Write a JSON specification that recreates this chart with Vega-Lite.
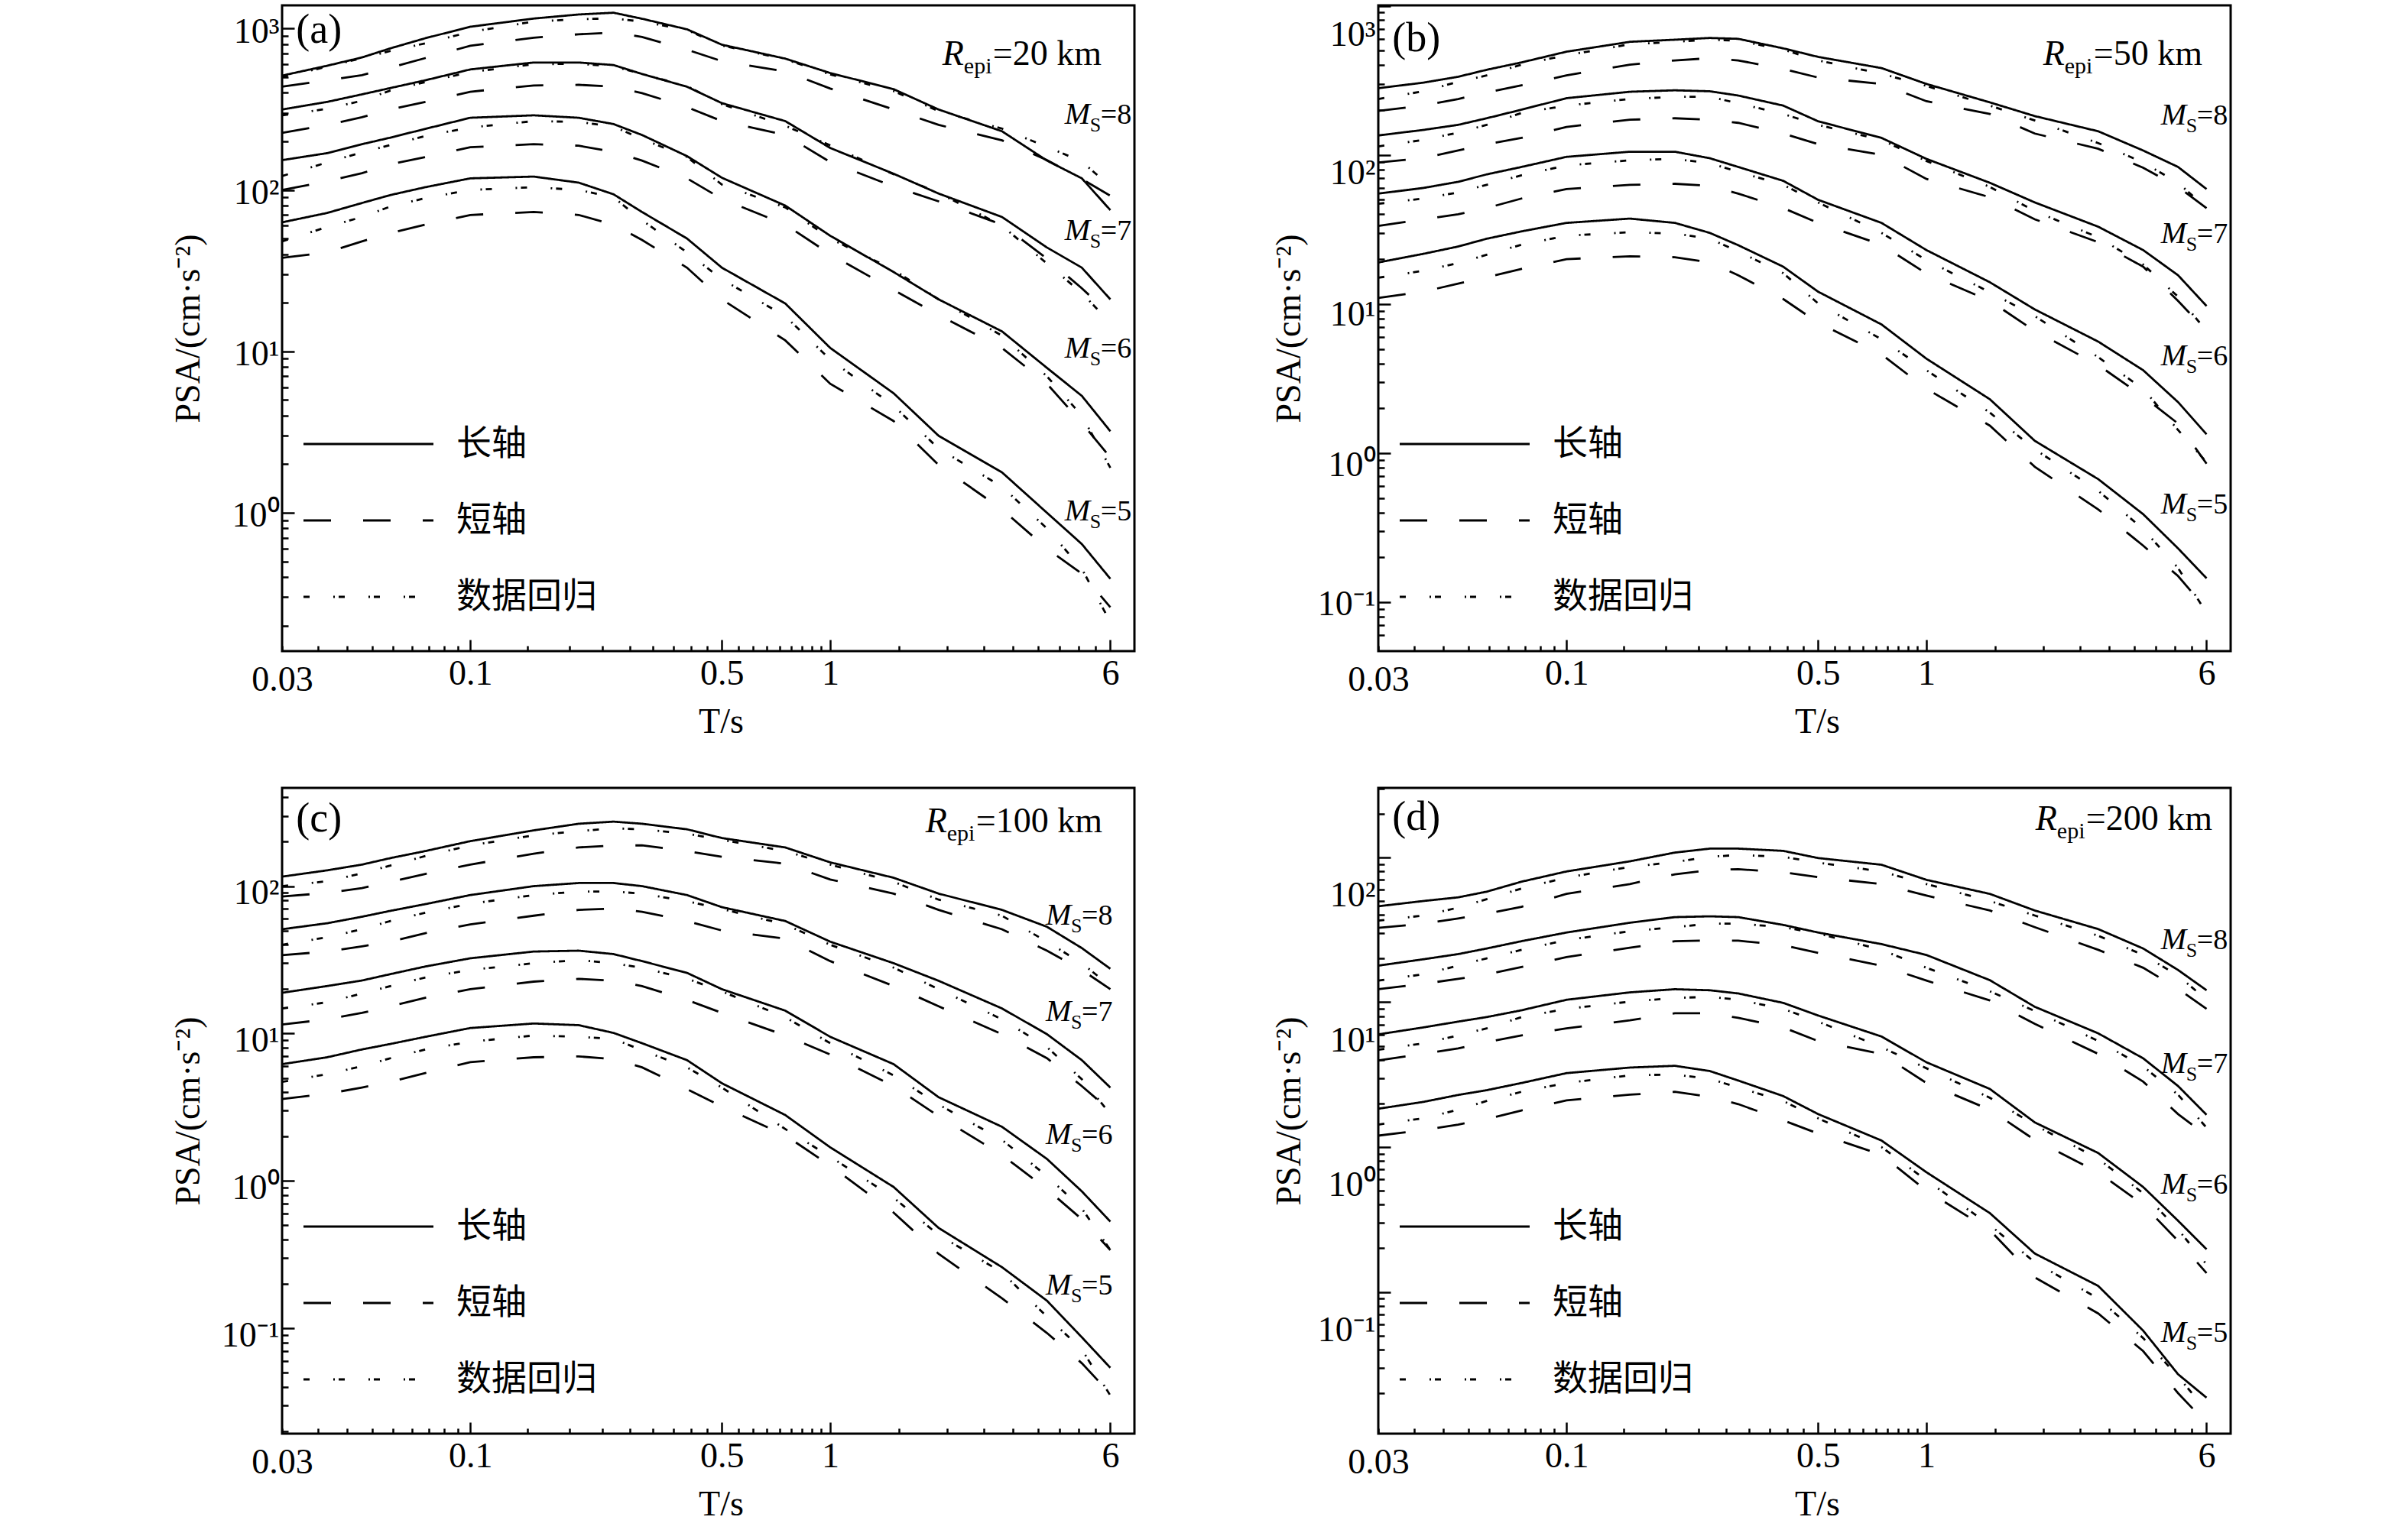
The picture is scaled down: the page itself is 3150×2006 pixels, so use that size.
{
  "$schema": "https://vega.github.io/schema/vega-lite/v6.json",
  "background": "white",
  "padding": {"left": 221, "top": 5, "right": 10, "bottom": 10},
  "columns": 2,
  "spacing": {"row": 58, "column": 175},
  "datasets": {
    "curves": [
      {"panel":"a","Ms":8,"T":0.03,"长轴":511,"短轴":436,"数据回归":500},
      {"panel":"a","Ms":8,"T":0.04,"长轴":588,"短轴":478,"数据回归":580},
      {"panel":"a","Ms":8,"T":0.05,"长轴":662,"短轴":514,"数据回归":656},
      {"panel":"a","Ms":8,"T":0.06,"长轴":754,"短轴":573,"数据回归":726},
      {"panel":"a","Ms":8,"T":0.075,"长轴":871,"短轴":656,"数据回归":810},
      {"panel":"a","Ms":8,"T":0.1,"长轴":1026,"短轴":782,"数据回归":953},
      {"panel":"a","Ms":8,"T":0.15,"长轴":1153,"短轴":877,"数据回归":1104},
      {"panel":"a","Ms":8,"T":0.2,"长轴":1222,"短轴":921,"数据回归":1143},
      {"panel":"a","Ms":8,"T":0.25,"长轴":1253,"短轴":945,"数据回归":1156},
      {"panel":"a","Ms":8,"T":0.3,"长轴":1150,"短轴":887,"数据回归":1104},
      {"panel":"a","Ms":8,"T":0.4,"长轴":989,"短轴":740,"数据回归":980},
      {"panel":"a","Ms":8,"T":0.5,"长轴":794,"短轴":628,"数据回归":785},
      {"panel":"a","Ms":8,"T":0.75,"长轴":651,"短轴":543,"数据回归":645},
      {"panel":"a","Ms":8,"T":1,"长轴":530,"短轴":425,"数据回归":520},
      {"panel":"a","Ms":8,"T":1.5,"长轴":421,"短轴":315,"数据回归":410},
      {"panel":"a","Ms":8,"T":2,"长轴":315,"短轴":253,"数据回归":308},
      {"panel":"a","Ms":8,"T":3,"长轴":231,"短轴":203,"数据回归":240},
      {"panel":"a","Ms":8,"T":4,"长轴":152,"短轴":153,"数据回归":185},
      {"panel":"a","Ms":8,"T":5,"长轴":118,"短轴":117,"数据回归":150},
      {"panel":"a","Ms":8,"T":6,"长轴":75,"短轴":92,"数据回归":105},
      {"panel":"a","Ms":7,"T":0.03,"长轴":315,"短轴":226,"数据回归":290},
      {"panel":"a","Ms":7,"T":0.04,"长轴":351,"短轴":253,"数据回归":318},
      {"panel":"a","Ms":7,"T":0.05,"长轴":391,"短轴":282,"数据回归":357},
      {"panel":"a","Ms":7,"T":0.06,"长轴":428,"短轴":315,"数据回归":413},
      {"panel":"a","Ms":7,"T":0.075,"长轴":478,"短轴":351,"数据回归":466},
      {"panel":"a","Ms":7,"T":0.1,"长轴":558,"短轴":406,"数据回归":537},
      {"panel":"a","Ms":7,"T":0.15,"长轴":616,"短轴":444,"数据回归":601},
      {"panel":"a","Ms":7,"T":0.2,"长轴":616,"短轴":448,"数据回归":605},
      {"panel":"a","Ms":7,"T":0.25,"长轴":594,"短轴":436,"数据回归":583},
      {"panel":"a","Ms":7,"T":0.3,"长轴":523,"短轴":398,"数据回归":523},
      {"panel":"a","Ms":7,"T":0.4,"长轴":436,"短轴":326,"数据回归":440},
      {"panel":"a","Ms":7,"T":0.5,"长轴":345,"短轴":267,"数据回归":340},
      {"panel":"a","Ms":7,"T":0.75,"长轴":267,"短轴":219,"数据回归":250},
      {"panel":"a","Ms":7,"T":1,"长轴":182,"短轴":149,"数据回归":189},
      {"panel":"a","Ms":7,"T":1.5,"长轴":126,"短轴":105,"数据回归":125},
      {"panel":"a","Ms":7,"T":2,"长轴":95,"短轴":85,"数据回归":96},
      {"panel":"a","Ms":7,"T":3,"长轴":68,"短轴":61,"数据回归":60},
      {"panel":"a","Ms":7,"T":4,"长轴":44,"短轴":37.5,"数据回归":35},
      {"panel":"a","Ms":7,"T":5,"长轴":33,"短轴":24.6,"数据回归":23},
      {"panel":"a","Ms":7,"T":6,"长轴":21,"短轴":16.8,"数据回归":15},
      {"panel":"a","Ms":6,"T":0.03,"长轴":153,"短轴":100,"数据回归":122},
      {"panel":"a","Ms":6,"T":0.04,"长轴":169,"短轴":113,"数据回归":148},
      {"panel":"a","Ms":6,"T":0.05,"长轴":192,"短轴":127,"数据回归":171},
      {"panel":"a","Ms":6,"T":0.06,"长轴":211,"短轴":144,"数据回归":190},
      {"panel":"a","Ms":6,"T":0.075,"长轴":239,"短轴":160,"数据回归":216},
      {"panel":"a","Ms":6,"T":0.1,"长轴":280,"短轴":184,"数据回归":244},
      {"panel":"a","Ms":6,"T":0.15,"长轴":290,"短轴":192,"数据回归":267},
      {"panel":"a","Ms":6,"T":0.2,"长轴":280,"短轴":188,"数据回归":264},
      {"panel":"a","Ms":6,"T":0.25,"长轴":256,"短轴":172,"数据回归":247},
      {"panel":"a","Ms":6,"T":0.3,"长轴":219,"短轴":152,"数据回归":207},
      {"panel":"a","Ms":6,"T":0.4,"长轴":162,"短轴":118,"数据回归":160},
      {"panel":"a","Ms":6,"T":0.5,"长轴":119,"短轴":88,"数据回归":108},
      {"panel":"a","Ms":6,"T":0.75,"长轴":80,"短轴":61,"数据回归":78},
      {"panel":"a","Ms":6,"T":1,"长轴":52,"短轴":40,"数据回归":50},
      {"panel":"a","Ms":6,"T":1.5,"长轴":31,"短轴":24,"数据回归":32},
      {"panel":"a","Ms":6,"T":2,"长轴":21,"短轴":16.8,"数据回归":21},
      {"panel":"a","Ms":6,"T":3,"长轴":13.3,"短轴":10.5,"数据回归":12.5},
      {"panel":"a","Ms":6,"T":4,"长轴":7.9,"短轴":6.3,"数据回归":7},
      {"panel":"a","Ms":6,"T":5,"长轴":5.3,"短轴":3.6,"数据回归":4},
      {"panel":"a","Ms":6,"T":6,"长轴":3.2,"短轴":2.2,"数据回归":1.9},
      {"panel":"a","Ms":5,"T":0.03,"长轴":63,"短轴":38,"数据回归":48},
      {"panel":"a","Ms":5,"T":0.04,"长轴":72,"短轴":41,"数据回归":59},
      {"panel":"a","Ms":5,"T":0.05,"长轴":83,"短轴":48,"数据回归":68},
      {"panel":"a","Ms":5,"T":0.06,"长轴":93,"短轴":54,"数据回归":79},
      {"panel":"a","Ms":5,"T":0.075,"长轴":104,"短轴":61,"数据回归":89},
      {"panel":"a","Ms":5,"T":0.1,"长轴":118,"短轴":70,"数据回归":100},
      {"panel":"a","Ms":5,"T":0.15,"长轴":121,"短轴":73,"数据回归":104},
      {"panel":"a","Ms":5,"T":0.2,"长轴":111,"短轴":70,"数据回归":100},
      {"panel":"a","Ms":5,"T":0.25,"长轴":94,"短轴":61,"数据回归":90},
      {"panel":"a","Ms":5,"T":0.3,"长轴":73,"短轴":49,"数据回归":65},
      {"panel":"a","Ms":5,"T":0.4,"长轴":50,"短轴":33,"数据回归":41},
      {"panel":"a","Ms":5,"T":0.5,"长轴":33,"短轴":21,"数据回归":28},
      {"panel":"a","Ms":5,"T":0.75,"长轴":19.8,"短轴":11.7,"数据回归":16.5},
      {"panel":"a","Ms":5,"T":1,"长轴":10.5,"短轴":6.3,"数据回归":8.9},
      {"panel":"a","Ms":5,"T":1.5,"长轴":5.5,"短轴":3.7,"数据回归":4.6},
      {"panel":"a","Ms":5,"T":2,"长轴":3.0,"短轴":1.98,"数据回归":2.5},
      {"panel":"a","Ms":5,"T":3,"长轴":1.78,"短轴":1.05,"数据回归":1.45},
      {"panel":"a","Ms":5,"T":4,"长轴":1.0,"短轴":0.6,"数据回归":0.8},
      {"panel":"a","Ms":5,"T":5,"长轴":0.64,"短轴":0.42,"数据回归":0.45},
      {"panel":"a","Ms":5,"T":6,"长轴":0.39,"短轴":0.26,"数据回归":0.21},

      {"panel":"b","Ms":8,"T":0.03,"长轴":280,"短轴":197,"数据回归":237},
      {"panel":"b","Ms":8,"T":0.04,"长轴":305,"短轴":214,"数据回归":267},
      {"panel":"b","Ms":8,"T":0.05,"长轴":334,"短轴":237,"数据回归":309},
      {"panel":"b","Ms":8,"T":0.06,"长轴":372,"短轴":262,"数据回归":341},
      {"panel":"b","Ms":8,"T":0.075,"长轴":417,"短轴":293,"数据回归":403},
      {"panel":"b","Ms":8,"T":0.1,"长轴":492,"短轴":341,"数据回归":466},
      {"panel":"b","Ms":8,"T":0.15,"长轴":573,"短轴":403,"数据回归":551},
      {"panel":"b","Ms":8,"T":0.2,"长轴":592,"短轴":430,"数据回归":573},
      {"panel":"b","Ms":8,"T":0.25,"长轴":608,"短轴":445,"数据回归":592},
      {"panel":"b","Ms":8,"T":0.3,"长轴":600,"短轴":430,"数据回归":583},
      {"panel":"b","Ms":8,"T":0.4,"长轴":518,"短轴":377,"数据回归":508},
      {"panel":"b","Ms":8,"T":0.5,"长轴":454,"短轴":330,"数据回归":430},
      {"panel":"b","Ms":8,"T":0.75,"长轴":382,"短轴":299,"数据回归":350},
      {"panel":"b","Ms":8,"T":1,"长轴":299,"短轴":229,"数据回归":290},
      {"panel":"b","Ms":8,"T":1.5,"长轴":225,"短轴":188,"数据回归":214},
      {"panel":"b","Ms":8,"T":2,"长轴":182,"短轴":139,"数据回归":170},
      {"panel":"b","Ms":8,"T":3,"长轴":144,"短轴":110,"数据回归":120},
      {"panel":"b","Ms":8,"T":4,"长轴":107,"短轴":82,"数据回归":89},
      {"panel":"b","Ms":8,"T":5,"长轴":83,"短轴":61,"数据回归":65},
      {"panel":"b","Ms":8,"T":6,"长轴":59,"短轴":44,"数据回归":44},
      {"panel":"b","Ms":7,"T":0.03,"长轴":135,"短轴":89,"数据回归":114},
      {"panel":"b","Ms":7,"T":0.04,"长轴":147,"短轴":95,"数据回归":126},
      {"panel":"b","Ms":7,"T":0.05,"长轴":159,"短轴":107,"数据回归":141},
      {"panel":"b","Ms":7,"T":0.06,"长轴":176,"短轴":118,"数据回归":159},
      {"panel":"b","Ms":7,"T":0.075,"长轴":201,"短轴":130,"数据回归":191},
      {"panel":"b","Ms":7,"T":0.1,"长轴":240,"短轴":154,"数据回归":214},
      {"panel":"b","Ms":7,"T":0.15,"长轴":265,"短轴":172,"数据回归":237},
      {"panel":"b","Ms":7,"T":0.2,"长轴":271,"短轴":176,"数据回归":245},
      {"panel":"b","Ms":7,"T":0.25,"长轴":267,"短轴":172,"数据回归":245},
      {"panel":"b","Ms":7,"T":0.3,"长轴":250,"短轴":164,"数据回归":222},
      {"panel":"b","Ms":7,"T":0.4,"长轴":214,"短轴":139,"数据回归":188},
      {"panel":"b","Ms":7,"T":0.5,"长轴":168,"短轴":118,"数据回归":159},
      {"panel":"b","Ms":7,"T":0.75,"长轴":130,"短轴":100,"数据回归":126},
      {"panel":"b","Ms":7,"T":1,"长轴":94,"短轴":69,"数据回归":91},
      {"panel":"b","Ms":7,"T":1.5,"长轴":65,"短轴":52,"数据回归":61},
      {"panel":"b","Ms":7,"T":2,"长轴":48,"短轴":37,"数据回归":42},
      {"panel":"b","Ms":7,"T":3,"长轴":33,"短轴":26,"数据回归":28},
      {"panel":"b","Ms":7,"T":4,"长轴":23,"短轴":17.8,"数据回归":18.4},
      {"panel":"b","Ms":7,"T":5,"长轴":15.6,"短轴":10.5,"数据回归":11.2},
      {"panel":"b","Ms":7,"T":6,"长轴":9.7,"短轴":6.6,"数据回归":6.6},
      {"panel":"b","Ms":6,"T":0.03,"长轴":55,"短轴":33.4,"数据回归":47},
      {"panel":"b","Ms":6,"T":0.04,"长轴":60,"短轴":37,"数据回归":51},
      {"panel":"b","Ms":6,"T":0.05,"长轴":66,"短轴":40,"数据回归":56},
      {"panel":"b","Ms":6,"T":0.06,"长轴":74,"短轴":44,"数据回归":63},
      {"panel":"b","Ms":6,"T":0.075,"长轴":83,"短轴":51,"数据回归":73},
      {"panel":"b","Ms":6,"T":0.1,"长轴":97,"短轴":59,"数据回归":85},
      {"panel":"b","Ms":6,"T":0.15,"长轴":105,"短轴":63,"数据回归":92},
      {"panel":"b","Ms":6,"T":0.2,"长轴":105,"短轴":64,"数据回归":94},
      {"panel":"b","Ms":6,"T":0.25,"长轴":95,"短轴":62,"数据回归":88},
      {"panel":"b","Ms":6,"T":0.3,"长轴":83,"短轴":55,"数据回归":77},
      {"panel":"b","Ms":6,"T":0.4,"长轴":67,"短轴":44,"数据回归":63},
      {"panel":"b","Ms":6,"T":0.5,"长轴":50,"短轴":35,"数据回归":48},
      {"panel":"b","Ms":6,"T":0.75,"长轴":35,"短轴":25,"数据回归":30},
      {"panel":"b","Ms":6,"T":1,"长轴":23,"短轴":16,"数据回归":19.7},
      {"panel":"b","Ms":6,"T":1.5,"长轴":14,"短轴":10.5,"数据回归":12},
      {"panel":"b","Ms":6,"T":2,"长轴":9.2,"短轴":6.6,"数据回归":8.3},
      {"panel":"b","Ms":6,"T":3,"长轴":5.6,"短轴":3.9,"数据回归":4.4},
      {"panel":"b","Ms":6,"T":4,"长轴":3.6,"短轴":2.4,"数据回归":2.7},
      {"panel":"b","Ms":6,"T":5,"长轴":2.2,"短轴":1.58,"数据回归":1.43},
      {"panel":"b","Ms":6,"T":6,"长轴":1.34,"短轴":0.85,"数据回归":0.87},
      {"panel":"b","Ms":5,"T":0.03,"长轴":19,"短轴":11,"数据回归":15},
      {"panel":"b","Ms":5,"T":0.04,"长轴":21.7,"短轴":12.1,"数据回归":16.7},
      {"panel":"b","Ms":5,"T":0.05,"长轴":24.3,"短轴":13.7,"数据回归":18.8},
      {"panel":"b","Ms":5,"T":0.06,"长轴":27.4,"短轴":15.1,"数据回归":21.4},
      {"panel":"b","Ms":5,"T":0.075,"长轴":30.7,"短轴":17.2,"数据回归":25},
      {"panel":"b","Ms":5,"T":0.1,"长轴":35,"短轴":20,"数据回归":28.7},
      {"panel":"b","Ms":5,"T":0.15,"长轴":37.4,"短轴":20.9,"数据回归":30.3},
      {"panel":"b","Ms":5,"T":0.2,"长轴":35,"短轴":20.6,"数据回归":29.7},
      {"panel":"b","Ms":5,"T":0.25,"长轴":30,"短轴":19,"数据回归":27.4},
      {"panel":"b","Ms":5,"T":0.3,"长轴":24.8,"短轴":15.6,"数据回归":22.5},
      {"panel":"b","Ms":5,"T":0.4,"长轴":17.8,"短轴":10.8,"数据回归":16.1},
      {"panel":"b","Ms":5,"T":0.5,"长轴":12.1,"短轴":7.5,"数据回归":10.1},
      {"panel":"b","Ms":5,"T":0.75,"长轴":7.3,"短轴":4.6,"数据回归":5.8},
      {"panel":"b","Ms":5,"T":1,"长轴":4.3,"短轴":2.7,"数据回归":3.6},
      {"panel":"b","Ms":5,"T":1.5,"长轴":2.3,"短轴":1.53,"数据回归":1.87},
      {"panel":"b","Ms":5,"T":2,"长轴":1.21,"短轴":0.81,"数据回归":1.06},
      {"panel":"b","Ms":5,"T":3,"长轴":0.67,"短轴":0.42,"数据回归":0.56},
      {"panel":"b","Ms":5,"T":4,"长轴":0.39,"短轴":0.24,"数据回归":0.31},
      {"panel":"b","Ms":5,"T":5,"长轴":0.23,"短轴":0.15,"数据回归":0.17},
      {"panel":"b","Ms":5,"T":6,"长轴":0.145,"短轴":0.09,"数据回归":0.085},

      {"panel":"c","Ms":8,"T":0.03,"长轴":116,"短轴":85,"数据回归":100},
      {"panel":"c","Ms":8,"T":0.04,"长轴":128,"短轴":90,"数据回归":108},
      {"panel":"c","Ms":8,"T":0.05,"长轴":140,"短轴":97,"数据回归":122},
      {"panel":"c","Ms":8,"T":0.06,"长轴":155,"短轴":107,"数据回归":138},
      {"panel":"c","Ms":8,"T":0.075,"长轴":173,"短轴":121,"数据回归":160},
      {"panel":"c","Ms":8,"T":0.1,"长轴":202,"短轴":140,"数据回归":189},
      {"panel":"c","Ms":8,"T":0.15,"长轴":239,"短轴":166,"数据回归":221},
      {"panel":"c","Ms":8,"T":0.2,"长轴":265,"短轴":183,"数据回归":236},
      {"panel":"c","Ms":8,"T":0.25,"长轴":274,"短轴":189,"数据回归":247},
      {"panel":"c","Ms":8,"T":0.3,"长轴":265,"短轴":189,"数据回归":243},
      {"panel":"c","Ms":8,"T":0.4,"长轴":243,"短轴":173,"数据回归":227},
      {"panel":"c","Ms":8,"T":0.5,"长轴":212,"短轴":158,"数据回归":206},
      {"panel":"c","Ms":8,"T":0.75,"长轴":183,"短轴":142,"数据回归":173},
      {"panel":"c","Ms":8,"T":1,"长轴":145,"短轴":111,"数据回归":140},
      {"panel":"c","Ms":8,"T":1.5,"长轴":114,"短轴":89,"数据回归":107},
      {"panel":"c","Ms":8,"T":2,"长轴":89,"短轴":69,"数据回归":81},
      {"panel":"c","Ms":8,"T":3,"长轴":69,"短轴":51,"数据回归":63},
      {"panel":"c","Ms":8,"T":4,"长轴":53,"短轴":36.5,"数据回归":42},
      {"panel":"c","Ms":8,"T":5,"长轴":38,"短轴":27,"数据回归":30},
      {"panel":"c","Ms":8,"T":6,"长轴":27.5,"短轴":20,"数据回归":21},
      {"panel":"c","Ms":7,"T":0.03,"长轴":51,"短轴":34,"数据回归":40},
      {"panel":"c","Ms":7,"T":0.04,"长轴":56,"短轴":36,"数据回归":45},
      {"panel":"c","Ms":7,"T":0.05,"长轴":62,"短轴":39,"数据回归":51},
      {"panel":"c","Ms":7,"T":0.06,"长轴":68,"短轴":42,"数据回归":58},
      {"panel":"c","Ms":7,"T":0.075,"长轴":75.5,"短轴":48,"数据回归":66},
      {"panel":"c","Ms":7,"T":0.1,"长轴":87,"短轴":55,"数据回归":76},
      {"panel":"c","Ms":7,"T":0.15,"长轴":100,"短轴":63,"数据回归":87},
      {"panel":"c","Ms":7,"T":0.2,"长轴":105,"短轴":69,"数据回归":92},
      {"panel":"c","Ms":7,"T":0.25,"长轴":105,"短轴":70.5,"数据回归":92},
      {"panel":"c","Ms":7,"T":0.3,"长轴":100,"短轴":67,"数据回归":89},
      {"panel":"c","Ms":7,"T":0.4,"长轴":87,"短轴":58,"数据回归":79},
      {"panel":"c","Ms":7,"T":0.5,"长轴":72,"短轴":50,"数据回归":70},
      {"panel":"c","Ms":7,"T":0.75,"长轴":58,"短轴":44,"数据回归":55},
      {"panel":"c","Ms":7,"T":1,"长轴":42,"短轴":31,"数据回归":40},
      {"panel":"c","Ms":7,"T":1.5,"长轴":30,"短轴":21,"数据回归":28},
      {"panel":"c","Ms":7,"T":2,"长轴":22.8,"短轴":15.3,"数据回归":20},
      {"panel":"c","Ms":7,"T":3,"长轴":14.8,"短轴":9.9,"数据回归":12.5},
      {"panel":"c","Ms":7,"T":4,"长轴":9.9,"短轴":6.8,"数据回归":8.1},
      {"panel":"c","Ms":7,"T":5,"长轴":6.6,"短轴":4.4,"数据回归":4.9},
      {"panel":"c","Ms":7,"T":6,"长轴":4.3,"短轴":3.0,"数据回归":2.85},
      {"panel":"c","Ms":6,"T":0.03,"长轴":18.9,"短轴":11.5,"数据回归":14.8},
      {"panel":"c","Ms":6,"T":0.04,"长轴":21,"短轴":12.5,"数据回归":16.3},
      {"panel":"c","Ms":6,"T":0.05,"长轴":22.9,"短轴":13.8,"数据回归":18.7},
      {"panel":"c","Ms":6,"T":0.06,"长轴":25.3,"短轴":15.3,"数据回归":21},
      {"panel":"c","Ms":6,"T":0.075,"长轴":28.5,"短轴":17.5,"数据回归":24},
      {"panel":"c","Ms":6,"T":0.1,"长轴":32.4,"短轴":20,"数据回归":27},
      {"panel":"c","Ms":6,"T":0.15,"长轴":36,"短轴":22.5,"数据回归":30},
      {"panel":"c","Ms":6,"T":0.2,"长轴":36.5,"短轴":23.5,"数据回归":31.5},
      {"panel":"c","Ms":6,"T":0.25,"长轴":34.6,"短轴":22.8,"数据回归":30},
      {"panel":"c","Ms":6,"T":0.3,"长轴":31,"短轴":21,"数据回归":27.9},
      {"panel":"c","Ms":6,"T":0.4,"长轴":25.8,"短轴":16.9,"数据回归":23.6},
      {"panel":"c","Ms":6,"T":0.5,"长轴":20,"短轴":13.8,"数据回归":19.3},
      {"panel":"c","Ms":6,"T":0.75,"长轴":14.3,"短轴":9.7,"数据回归":12.9},
      {"panel":"c","Ms":6,"T":1,"长轴":9.5,"短轴":7.2,"数据回归":8.6},
      {"panel":"c","Ms":6,"T":1.5,"长轴":6.2,"短轴":4.4,"数据回归":5.2},
      {"panel":"c","Ms":6,"T":2,"长轴":3.7,"短轴":2.75,"数据回归":3.3},
      {"panel":"c","Ms":6,"T":3,"长轴":2.33,"短轴":1.5,"数据回归":1.9},
      {"panel":"c","Ms":6,"T":4,"长轴":1.41,"短轴":0.88,"数据回归":1.08},
      {"panel":"c","Ms":6,"T":5,"长轴":0.85,"短轴":0.55,"数据回归":0.65},
      {"panel":"c","Ms":6,"T":6,"长轴":0.53,"短轴":0.34,"数据回归":0.34},
      {"panel":"c","Ms":5,"T":0.03,"长轴":6.2,"短轴":3.6,"数据回归":4.7},
      {"panel":"c","Ms":5,"T":0.04,"长轴":6.9,"短轴":3.9,"数据回归":5.3},
      {"panel":"c","Ms":5,"T":0.05,"长轴":7.8,"短轴":4.3,"数据回归":6.0},
      {"panel":"c","Ms":5,"T":0.06,"长轴":8.5,"短轴":4.7,"数据回归":6.8},
      {"panel":"c","Ms":5,"T":0.075,"长轴":9.5,"短轴":5.4,"数据回归":7.8},
      {"panel":"c","Ms":5,"T":0.1,"长轴":10.9,"短轴":6.4,"数据回归":8.8},
      {"panel":"c","Ms":5,"T":0.15,"长轴":11.7,"短轴":6.9,"数据回归":9.7},
      {"panel":"c","Ms":5,"T":0.2,"长轴":11.4,"短轴":7.0,"数据回归":9.5},
      {"panel":"c","Ms":5,"T":0.25,"长轴":10.1,"短轴":6.7,"数据回归":9.2},
      {"panel":"c","Ms":5,"T":0.3,"长轴":8.6,"短轴":5.9,"数据回归":7.7},
      {"panel":"c","Ms":5,"T":0.4,"长轴":6.6,"短轴":4.2,"数据回归":5.9},
      {"panel":"c","Ms":5,"T":0.5,"长轴":4.6,"短轴":3.2,"数据回归":4.3},
      {"panel":"c","Ms":5,"T":0.75,"长轴":2.8,"短轴":2.04,"数据回归":2.25},
      {"panel":"c","Ms":5,"T":1,"长轴":1.69,"短轴":1.27,"数据回归":1.46},
      {"panel":"c","Ms":5,"T":1.5,"长轴":0.91,"短轴":0.61,"数据回归":0.77},
      {"panel":"c","Ms":5,"T":2,"长轴":0.48,"短轴":0.32,"数据回归":0.43},
      {"panel":"c","Ms":5,"T":3,"长轴":0.26,"短轴":0.16,"数据回归":0.24},
      {"panel":"c","Ms":5,"T":4,"长轴":0.154,"短轴":0.093,"数据回归":0.12},
      {"panel":"c","Ms":5,"T":5,"长轴":0.087,"短轴":0.058,"数据回归":0.072},
      {"panel":"c","Ms":5,"T":6,"长轴":0.054,"短轴":0.036,"数据回归":0.035},

      {"panel":"d","Ms":8,"T":0.03,"长轴":46,"短轴":32.6,"数据回归":36.6},
      {"panel":"d","Ms":8,"T":0.04,"长轴":50,"短轴":34.9,"数据回归":39.7},
      {"panel":"d","Ms":8,"T":0.05,"长轴":53,"短轴":37.9,"数据回归":45},
      {"panel":"d","Ms":8,"T":0.06,"长轴":58,"短轴":40.9,"数据回归":51.5},
      {"panel":"d","Ms":8,"T":0.075,"长轴":68,"短轴":45.6,"数据回归":61},
      {"panel":"d","Ms":8,"T":0.1,"长轴":80,"短轴":56,"数据回归":72.6},
      {"panel":"d","Ms":8,"T":0.15,"长轴":94,"短轴":65.5,"数据回归":86},
      {"panel":"d","Ms":8,"T":0.2,"长轴":108,"短轴":76.5,"数据回归":93},
      {"panel":"d","Ms":8,"T":0.25,"长轴":115,"短轴":81.5,"数据回归":101},
      {"panel":"d","Ms":8,"T":0.3,"长轴":115,"短轴":83,"数据回归":104},
      {"panel":"d","Ms":8,"T":0.4,"长轴":111,"短轴":79,"数据回归":101},
      {"panel":"d","Ms":8,"T":0.5,"长轴":99,"短轴":73,"数据回归":92},
      {"panel":"d","Ms":8,"T":0.75,"长轴":89,"短轴":65.5,"数据回归":80},
      {"panel":"d","Ms":8,"T":1,"长轴":70,"短轴":54.5,"数据回归":65.5},
      {"panel":"d","Ms":8,"T":1.5,"长轴":56,"短轴":43,"数据回归":50},
      {"panel":"d","Ms":8,"T":2,"长轴":43,"短轴":33,"数据回归":39.7},
      {"panel":"d","Ms":8,"T":3,"长轴":32,"短轴":23,"数据回归":28.8},
      {"panel":"d","Ms":8,"T":4,"长轴":23.5,"短轴":17.3,"数据回归":21.2},
      {"panel":"d","Ms":8,"T":5,"长轴":16.7,"短轴":12.4,"数据回归":15.3},
      {"panel":"d","Ms":8,"T":6,"长轴":12.1,"短轴":9.0,"数据回归":10.4},
      {"panel":"d","Ms":7,"T":0.03,"长轴":17.9,"短轴":12.3,"数据回归":14.1},
      {"panel":"d","Ms":7,"T":0.04,"长轴":19.8,"短轴":13.4,"数据回归":15.6},
      {"panel":"d","Ms":7,"T":0.05,"长轴":21.5,"短轴":14.5,"数据回归":17.9},
      {"panel":"d","Ms":7,"T":0.06,"长轴":23.5,"短轴":15.6,"数据回归":20.1},
      {"panel":"d","Ms":7,"T":0.075,"长轴":26.4,"短轴":17.5,"数据回归":23},
      {"panel":"d","Ms":7,"T":0.1,"长轴":30.3,"短轴":20.5,"数据回归":26.9},
      {"panel":"d","Ms":7,"T":0.15,"长轴":35.4,"短轴":23.8,"数据回归":30.9},
      {"panel":"d","Ms":7,"T":0.2,"长轴":38.7,"短轴":26.4,"数据回归":33},
      {"panel":"d","Ms":7,"T":0.25,"长轴":39.2,"短轴":26.7,"数据回归":34.9},
      {"panel":"d","Ms":7,"T":0.3,"长轴":38.7,"短轴":26.6,"数据回归":34.9},
      {"panel":"d","Ms":7,"T":0.4,"长轴":34.2,"短轴":24.8,"数据回归":33},
      {"panel":"d","Ms":7,"T":0.5,"长轴":30.3,"短轴":21.9,"数据回归":29.8},
      {"panel":"d","Ms":7,"T":0.75,"长轴":25.2,"短轴":17.9,"数据回归":23},
      {"panel":"d","Ms":7,"T":1,"长轴":21.2,"短轴":14.1,"数据回归":17.3},
      {"panel":"d","Ms":7,"T":1.5,"长轴":14.2,"短轴":10.3,"数据回归":11.9},
      {"panel":"d","Ms":7,"T":2,"长轴":9.3,"短轴":7.1,"数据回归":8.7},
      {"panel":"d","Ms":7,"T":3,"长轴":6.1,"短轴":4.4,"数据回归":5.4},
      {"panel":"d","Ms":7,"T":4,"长轴":4.1,"短轴":2.83,"数据回归":3.6},
      {"panel":"d","Ms":7,"T":5,"长轴":2.64,"短轴":1.69,"数据回归":2.3},
      {"panel":"d","Ms":7,"T":6,"长轴":1.67,"短轴":1.2,"数据回归":1.36},
      {"panel":"d","Ms":6,"T":0.03,"长轴":6.0,"短轴":3.97,"数据回归":4.7},
      {"panel":"d","Ms":6,"T":0.04,"长轴":6.7,"短轴":4.4,"数据回归":5.2},
      {"panel":"d","Ms":6,"T":0.05,"长轴":7.35,"短轴":4.8,"数据回归":5.9},
      {"panel":"d","Ms":6,"T":0.06,"长轴":7.9,"短轴":5.3,"数据回归":6.6},
      {"panel":"d","Ms":6,"T":0.075,"长轴":8.8,"短轴":5.9,"数据回归":7.9},
      {"panel":"d","Ms":6,"T":0.1,"长轴":10.4,"短轴":6.6,"数据回归":9.0},
      {"panel":"d","Ms":6,"T":0.15,"长轴":11.7,"短轴":7.5,"数据回归":10.1},
      {"panel":"d","Ms":6,"T":0.2,"长轴":12.3,"短轴":8.4,"数据回归":10.7},
      {"panel":"d","Ms":6,"T":0.25,"长轴":12.1,"短轴":8.4,"数据回归":10.9},
      {"panel":"d","Ms":6,"T":0.3,"长轴":11.5,"短轴":7.8,"数据回归":10.4},
      {"panel":"d","Ms":6,"T":0.4,"长轴":9.9,"短轴":6.7,"数据回归":9.0},
      {"panel":"d","Ms":6,"T":0.5,"长轴":8.1,"短轴":5.4,"数据回归":7.35},
      {"panel":"d","Ms":6,"T":0.75,"长轴":5.8,"短轴":4.4,"数据回归":4.9},
      {"panel":"d","Ms":6,"T":1,"长轴":3.85,"短轴":2.77,"数据回归":3.5},
      {"panel":"d","Ms":6,"T":1.5,"长轴":2.52,"短轴":1.81,"数据回归":2.19},
      {"panel":"d","Ms":6,"T":2,"长轴":1.48,"短轴":1.12,"数据回归":1.42},
      {"panel":"d","Ms":6,"T":3,"长轴":0.91,"短轴":0.67,"数据回归":0.83},
      {"panel":"d","Ms":6,"T":4,"长轴":0.53,"短轴":0.4,"数据回归":0.48},
      {"panel":"d","Ms":6,"T":5,"长轴":0.31,"短轴":0.225,"数据回归":0.27},
      {"panel":"d","Ms":6,"T":6,"长轴":0.197,"短轴":0.135,"数据回归":0.155},
      {"panel":"d","Ms":5,"T":0.03,"长轴":1.84,"短轴":1.2,"数据回归":1.43},
      {"panel":"d","Ms":5,"T":0.04,"长轴":2.05,"短轴":1.31,"数据回归":1.58},
      {"panel":"d","Ms":5,"T":0.05,"长轴":2.29,"短轴":1.43,"数据回归":1.81},
      {"panel":"d","Ms":5,"T":0.06,"长轴":2.47,"短轴":1.56,"数据回归":2.08},
      {"panel":"d","Ms":5,"T":0.075,"长轴":2.77,"短轴":1.79,"数据回归":2.41},
      {"panel":"d","Ms":5,"T":0.1,"长轴":3.24,"短轴":2.1,"数据回归":2.77},
      {"panel":"d","Ms":5,"T":0.15,"长轴":3.54,"短轴":2.3,"数据回归":3.13},
      {"panel":"d","Ms":5,"T":0.2,"长轴":3.64,"短轴":2.41,"数据回归":3.17},
      {"panel":"d","Ms":5,"T":0.25,"长轴":3.35,"短轴":2.22,"数据回归":2.96},
      {"panel":"d","Ms":5,"T":0.3,"长轴":2.88,"短轴":1.98,"数据回归":2.58},
      {"panel":"d","Ms":5,"T":0.4,"长轴":2.25,"短轴":1.53,"数据回归":2.08},
      {"panel":"d","Ms":5,"T":0.5,"长轴":1.69,"短轴":1.24,"数据回归":1.58},
      {"panel":"d","Ms":5,"T":0.75,"长轴":1.11,"短轴":0.885,"数据回归":1.0},
      {"panel":"d","Ms":5,"T":1,"长轴":0.67,"短轴":0.5,"数据回归":0.59},
      {"panel":"d","Ms":5,"T":1.5,"长轴":0.35,"短轴":0.267,"数据回归":0.29},
      {"panel":"d","Ms":5,"T":2,"长轴":0.184,"短轴":0.126,"数据回归":0.16},
      {"panel":"d","Ms":5,"T":3,"长轴":0.11,"短轴":0.071,"数据回归":0.09},
      {"panel":"d","Ms":5,"T":4,"长轴":0.054,"短轴":0.039,"数据回归":0.048},
      {"panel":"d","Ms":5,"T":5,"长轴":0.027,"短轴":0.02,"数据回归":0.026},
      {"panel":"d","Ms":5,"T":6,"长轴":0.0186,"短轴":0.0124,"数据回归":0.0152}
    ],
    "notes": [
      {"panel":"a","kind":"lab","T":0.0328,"PSA":971,"main":"","sub":"","rest":"(a)"},
      {"panel":"a","kind":"R","T":2.05,"PSA":594,"main":"R","sub":"epi","rest":"=20 km"},
      {"panel":"a","kind":"M","T":4.48,"PSA":256,"main":"M","sub":"S","rest":"=8"},
      {"panel":"a","kind":"M","T":4.48,"PSA":48.9,"main":"M","sub":"S","rest":"=7"},
      {"panel":"a","kind":"M","T":4.48,"PSA":9.1,"main":"M","sub":"S","rest":"=6"},
      {"panel":"a","kind":"M","T":4.48,"PSA":0.9,"main":"M","sub":"S","rest":"=5"},
      {"panel":"b","kind":"lab","T":0.0328,"PSA":600,"main":"","sub":"","rest":"(b)"},
      {"panel":"b","kind":"R","T":2.11,"PSA":399,"main":"R","sub":"epi","rest":"=50 km"},
      {"panel":"b","kind":"M","T":4.48,"PSA":159,"main":"M","sub":"S","rest":"=8"},
      {"panel":"b","kind":"M","T":4.48,"PSA":25.8,"main":"M","sub":"S","rest":"=7"},
      {"panel":"b","kind":"M","T":4.48,"PSA":3.9,"main":"M","sub":"S","rest":"=6"},
      {"panel":"b","kind":"M","T":4.48,"PSA":0.394,"main":"M","sub":"S","rest":"=5"},
      {"panel":"c","kind":"lab","T":0.0328,"PSA":284,"main":"","sub":"","rest":"(c)"},
      {"panel":"c","kind":"R","T":1.84,"PSA":232,"main":"R","sub":"epi","rest":"=100 km"},
      {"panel":"c","kind":"M","T":3.97,"PSA":54.6,"main":"M","sub":"S","rest":"=8"},
      {"panel":"c","kind":"M","T":3.97,"PSA":12.1,"main":"M","sub":"S","rest":"=7"},
      {"panel":"c","kind":"M","T":3.97,"PSA":1.78,"main":"M","sub":"S","rest":"=6"},
      {"panel":"c","kind":"M","T":3.97,"PSA":0.17,"main":"M","sub":"S","rest":"=5"},
      {"panel":"d","kind":"lab","T":0.0328,"PSA":188,"main":"","sub":"","rest":"(d)"},
      {"panel":"d","kind":"R","T":2.01,"PSA":155,"main":"R","sub":"epi","rest":"=200 km"},
      {"panel":"d","kind":"M","T":4.48,"PSA":23.4,"main":"M","sub":"S","rest":"=8"},
      {"panel":"d","kind":"M","T":4.48,"PSA":3.23,"main":"M","sub":"S","rest":"=7"},
      {"panel":"d","kind":"M","T":4.48,"PSA":0.479,"main":"M","sub":"S","rest":"=6"},
      {"panel":"d","kind":"M","T":4.48,"PSA":0.0452,"main":"M","sub":"S","rest":"=5"}
    ]
  },
  "concat": [
    {
      "width": 1115,
      "height": 845,
      "encoding": {
        "x": {"field": "T", "type": "quantitative", "title": "T/s",
          "scale": {"type": "log", "domain": [0.03, 7], "nice": false},
          "axis": {"values": [0.03,0.03778,0.04556,0.05333,0.06111,0.06889,0.07667,0.08444,0.09222,0.1,0.14444,0.18889,0.23333,0.27778,0.32222,0.36667,0.41111,0.45556,0.5,0.55556,0.61111,0.66667,0.72222,0.77778,0.83333,0.88889,0.94444,1,1.55556,2.11111,2.66667,3.22222,3.77778,4.33333,4.88889,5.44444,6],
            "labelExpr": "datum.value == 0.03 ? '0.03' : datum.value == 0.1 ? '0.1' : datum.value == 0.5 ? '0.5' : datum.value == 1 ? '1' : datum.value == 6 ? '6' : ''",
            "tickSize": {"condition": {"test": "datum.value == 0.1 || datum.value == 0.5 || datum.value == 1 || datum.value == 6", "value": -15}, "value": -7},
            "labelPadding": 22, "titleX": 574, "titleY": 92, "titleBaseline": "middle"}},
        "y": {"field": "PSA", "type": "quantitative", "title": "PSA/(cm·s⁻²)",
          "scale": {"type": "log", "domain": [0.139, 1392], "nice": false},
          "axis": {"values": [0.2,0.3,0.4,0.5,0.6,0.7,0.8,0.9,1,2,3,4,5,6,7,8,9,10,20,30,40,50,60,70,80,90,100,200,300,400,500,600,700,800,900,1000],
            "labelExpr": "datum.value == 1000 ? '10³' : datum.value == 100 ? '10²' : datum.value == 10 ? '10¹' : datum.value == 1 ? '10⁰' : datum.value == 0.1 ? '10⁻¹' : ''",
            "tickSize": {"condition": {"test": "datum.value == 1000 || datum.value == 100 || datum.value == 10 || datum.value == 1 || datum.value == 0.1", "value": -16}, "value": -8},
            "labelPadding": 20, "labelOffset": 4, "titleX": -123, "titleBaseline": "middle"}}
      },
      "layer": [
        {"data": {"name": "curves"},
         "transform": [{"filter": "datum.panel == 'a'"}, {"fold": ["长轴", "短轴", "数据回归"], "as": ["type", "PSA"]}],
         "mark": {"type": "line", "color": "black", "strokeWidth": 2.8},
         "encoding": {
           "detail": {"field": "Ms", "type": "nominal"},
           "strokeDash": {"field": "type", "type": "nominal",
             "scale": {"domain": ["长轴", "短轴", "数据回归"], "range": [[1, 0], [36, 42], [8, 31, 2, 5]]},
             "legend": {"title": null, "orient": "none", "legendX": 83, "legendY": 544}}}},
        {"data": {"name": "notes"}, "transform": [{"filter": "datum.panel == 'a' && datum.kind == 'lab'"}],
         "mark": {"type": "text", "align": "left", "baseline": "middle", "fontSize": 54},
         "encoding": {"text": {"field": "rest"}}},
        {"data": {"name": "notes"}, "transform": [{"filter": "datum.panel == 'a' && datum.kind == 'M'"}],
         "mark": {"type": "text", "align": "left", "baseline": "alphabetic", "fontSize": 40, "fontStyle": "italic"},
         "encoding": {"text": {"field": "main"}}},
        {"data": {"name": "notes"}, "transform": [{"filter": "datum.panel == 'a' && datum.kind == 'M'"}],
         "mark": {"type": "text", "align": "left", "baseline": "alphabetic", "fontSize": 26, "dx": 33, "dy": 10},
         "encoding": {"text": {"field": "sub"}}},
        {"data": {"name": "notes"}, "transform": [{"filter": "datum.panel == 'a' && datum.kind == 'M'"}],
         "mark": {"type": "text", "align": "left", "baseline": "alphabetic", "fontSize": 38, "dx": 47},
         "encoding": {"text": {"field": "rest"}}},
        {"data": {"name": "notes"}, "transform": [{"filter": "datum.panel == 'a' && datum.kind == 'R'"}],
         "mark": {"type": "text", "align": "left", "baseline": "alphabetic", "fontSize": 46, "fontStyle": "italic"},
         "encoding": {"text": {"field": "main"}}},
        {"data": {"name": "notes"}, "transform": [{"filter": "datum.panel == 'a' && datum.kind == 'R'"}],
         "mark": {"type": "text", "align": "left", "baseline": "alphabetic", "fontSize": 30, "dx": 28, "dy": 11},
         "encoding": {"text": {"field": "sub"}}},
        {"data": {"name": "notes"}, "transform": [{"filter": "datum.panel == 'a' && datum.kind == 'R'"}],
         "mark": {"type": "text", "align": "left", "baseline": "alphabetic", "fontSize": 46, "dx": 66},
         "encoding": {"text": {"field": "rest"}}}
      ]
    },
    {
      "width": 1115,
      "height": 845,
      "encoding": {
        "x": {"field": "T", "type": "quantitative", "title": "T/s",
          "scale": {"type": "log", "domain": [0.03, 7], "nice": false},
          "axis": {"values": [0.03,0.03778,0.04556,0.05333,0.06111,0.06889,0.07667,0.08444,0.09222,0.1,0.14444,0.18889,0.23333,0.27778,0.32222,0.36667,0.41111,0.45556,0.5,0.55556,0.61111,0.66667,0.72222,0.77778,0.83333,0.88889,0.94444,1,1.55556,2.11111,2.66667,3.22222,3.77778,4.33333,4.88889,5.44444,6],
            "labelExpr": "datum.value == 0.03 ? '0.03' : datum.value == 0.1 ? '0.1' : datum.value == 0.5 ? '0.5' : datum.value == 1 ? '1' : datum.value == 6 ? '6' : ''",
            "tickSize": {"condition": {"test": "datum.value == 0.1 || datum.value == 0.5 || datum.value == 1 || datum.value == 6", "value": -15}, "value": -7},
            "labelPadding": 22, "titleX": 574, "titleY": 92, "titleBaseline": "middle"}},
        "y": {"field": "PSA", "type": "quantitative", "title": "PSA/(cm·s⁻²)",
          "scale": {"type": "log", "domain": [0.0471, 1006], "nice": false},
          "axis": {"values": [0.06,0.07,0.08,0.09,0.1,0.2,0.3,0.4,0.5,0.6,0.7,0.8,0.9,1,2,3,4,5,6,7,8,9,10,20,30,40,50,60,70,80,90,100,200,300,400,500,600,700,800,900,1000],
            "labelExpr": "datum.value == 1000 ? '10³' : datum.value == 100 ? '10²' : datum.value == 10 ? '10¹' : datum.value == 1 ? '10⁰' : datum.value == 0.1 ? '10⁻¹' : ''",
            "tickSize": {"condition": {"test": "datum.value == 1000 || datum.value == 100 || datum.value == 10 || datum.value == 1 || datum.value == 0.1", "value": -16}, "value": -8},
            "labelOffset": {"condition": [{"test": "datum.value == 1000", "value": 38}, {"test": "datum.value == 10", "value": 14}, {"test": "datum.value == 1", "value": 15}, {"test": "datum.value == 0.1", "value": 2}], "value": 24},
            "labelPadding": 20, "titleX": -117, "titleBaseline": "middle"}}
      },
      "layer": [
        {"data": {"name": "curves"},
         "transform": [{"filter": "datum.panel == 'b'"}, {"fold": ["长轴", "短轴", "数据回归"], "as": ["type", "PSA"]}],
         "mark": {"type": "line", "color": "black", "strokeWidth": 2.8},
         "encoding": {
           "detail": {"field": "Ms", "type": "nominal"},
           "strokeDash": {"field": "type", "type": "nominal",
             "scale": {"domain": ["长轴", "短轴", "数据回归"], "range": [[1, 0], [36, 42], [8, 31, 2, 5]]},
             "legend": {"title": null, "orient": "none", "legendX": 83, "legendY": 544}}}},
        {"data": {"name": "notes"}, "transform": [{"filter": "datum.panel == 'b' && datum.kind == 'lab'"}],
         "mark": {"type": "text", "align": "left", "baseline": "middle", "fontSize": 54},
         "encoding": {"text": {"field": "rest"}}},
        {"data": {"name": "notes"}, "transform": [{"filter": "datum.panel == 'b' && datum.kind == 'M'"}],
         "mark": {"type": "text", "align": "left", "baseline": "alphabetic", "fontSize": 40, "fontStyle": "italic"},
         "encoding": {"text": {"field": "main"}}},
        {"data": {"name": "notes"}, "transform": [{"filter": "datum.panel == 'b' && datum.kind == 'M'"}],
         "mark": {"type": "text", "align": "left", "baseline": "alphabetic", "fontSize": 26, "dx": 33, "dy": 10},
         "encoding": {"text": {"field": "sub"}}},
        {"data": {"name": "notes"}, "transform": [{"filter": "datum.panel == 'b' && datum.kind == 'M'"}],
         "mark": {"type": "text", "align": "left", "baseline": "alphabetic", "fontSize": 38, "dx": 47},
         "encoding": {"text": {"field": "rest"}}},
        {"data": {"name": "notes"}, "transform": [{"filter": "datum.panel == 'b' && datum.kind == 'R'"}],
         "mark": {"type": "text", "align": "left", "baseline": "alphabetic", "fontSize": 46, "fontStyle": "italic"},
         "encoding": {"text": {"field": "main"}}},
        {"data": {"name": "notes"}, "transform": [{"filter": "datum.panel == 'b' && datum.kind == 'R'"}],
         "mark": {"type": "text", "align": "left", "baseline": "alphabetic", "fontSize": 30, "dx": 28, "dy": 11},
         "encoding": {"text": {"field": "sub"}}},
        {"data": {"name": "notes"}, "transform": [{"filter": "datum.panel == 'b' && datum.kind == 'R'"}],
         "mark": {"type": "text", "align": "left", "baseline": "alphabetic", "fontSize": 46, "dx": 66},
         "encoding": {"text": {"field": "rest"}}}
      ]
    },
    {
      "width": 1115,
      "height": 845,
      "encoding": {
        "x": {"field": "T", "type": "quantitative", "title": "T/s",
          "scale": {"type": "log", "domain": [0.03, 7], "nice": false},
          "axis": {"values": [0.03,0.03778,0.04556,0.05333,0.06111,0.06889,0.07667,0.08444,0.09222,0.1,0.14444,0.18889,0.23333,0.27778,0.32222,0.36667,0.41111,0.45556,0.5,0.55556,0.61111,0.66667,0.72222,0.77778,0.83333,0.88889,0.94444,1,1.55556,2.11111,2.66667,3.22222,3.77778,4.33333,4.88889,5.44444,6],
            "labelExpr": "datum.value == 0.03 ? '0.03' : datum.value == 0.1 ? '0.1' : datum.value == 0.5 ? '0.5' : datum.value == 1 ? '1' : datum.value == 6 ? '6' : ''",
            "tickSize": {"condition": {"test": "datum.value == 0.1 || datum.value == 0.5 || datum.value == 1 || datum.value == 6", "value": -15}, "value": -7},
            "labelPadding": 22, "titleX": 574, "titleY": 92, "titleBaseline": "middle"}},
        "y": {"field": "PSA", "type": "quantitative", "title": "PSA/(cm·s⁻²)",
          "scale": {"type": "log", "domain": [0.0193, 464], "nice": false},
          "axis": {"values": [0.02,0.03,0.04,0.05,0.06,0.07,0.08,0.09,0.1,0.2,0.3,0.4,0.5,0.6,0.7,0.8,0.9,1,2,3,4,5,6,7,8,9,10,20,30,40,50,60,70,80,90,100,200,300,400],
            "labelExpr": "datum.value == 1000 ? '10³' : datum.value == 100 ? '10²' : datum.value == 10 ? '10¹' : datum.value == 1 ? '10⁰' : datum.value == 0.1 ? '10⁻¹' : ''",
            "tickSize": {"condition": {"test": "datum.value == 1000 || datum.value == 100 || datum.value == 10 || datum.value == 1 || datum.value == 0.1", "value": -16}, "value": -8},
            "labelPadding": 20, "labelOffset": 9, "titleX": -123, "titleBaseline": "middle"}}
      },
      "layer": [
        {"data": {"name": "curves"},
         "transform": [{"filter": "datum.panel == 'c'"}, {"fold": ["长轴", "短轴", "数据回归"], "as": ["type", "PSA"]}],
         "mark": {"type": "line", "color": "black", "strokeWidth": 2.8},
         "encoding": {
           "detail": {"field": "Ms", "type": "nominal"},
           "strokeDash": {"field": "type", "type": "nominal",
             "scale": {"domain": ["长轴", "短轴", "数据回归"], "range": [[1, 0], [36, 42], [8, 31, 2, 5]]},
             "legend": {"title": null, "orient": "none", "legendX": 83, "legendY": 544}}}},
        {"data": {"name": "notes"}, "transform": [{"filter": "datum.panel == 'c' && datum.kind == 'lab'"}],
         "mark": {"type": "text", "align": "left", "baseline": "middle", "fontSize": 54},
         "encoding": {"text": {"field": "rest"}}},
        {"data": {"name": "notes"}, "transform": [{"filter": "datum.panel == 'c' && datum.kind == 'M'"}],
         "mark": {"type": "text", "align": "left", "baseline": "alphabetic", "fontSize": 40, "fontStyle": "italic"},
         "encoding": {"text": {"field": "main"}}},
        {"data": {"name": "notes"}, "transform": [{"filter": "datum.panel == 'c' && datum.kind == 'M'"}],
         "mark": {"type": "text", "align": "left", "baseline": "alphabetic", "fontSize": 26, "dx": 33, "dy": 10},
         "encoding": {"text": {"field": "sub"}}},
        {"data": {"name": "notes"}, "transform": [{"filter": "datum.panel == 'c' && datum.kind == 'M'"}],
         "mark": {"type": "text", "align": "left", "baseline": "alphabetic", "fontSize": 38, "dx": 47},
         "encoding": {"text": {"field": "rest"}}},
        {"data": {"name": "notes"}, "transform": [{"filter": "datum.panel == 'c' && datum.kind == 'R'"}],
         "mark": {"type": "text", "align": "left", "baseline": "alphabetic", "fontSize": 46, "fontStyle": "italic"},
         "encoding": {"text": {"field": "main"}}},
        {"data": {"name": "notes"}, "transform": [{"filter": "datum.panel == 'c' && datum.kind == 'R'"}],
         "mark": {"type": "text", "align": "left", "baseline": "alphabetic", "fontSize": 30, "dx": 28, "dy": 11},
         "encoding": {"text": {"field": "sub"}}},
        {"data": {"name": "notes"}, "transform": [{"filter": "datum.panel == 'c' && datum.kind == 'R'"}],
         "mark": {"type": "text", "align": "left", "baseline": "alphabetic", "fontSize": 46, "dx": 66},
         "encoding": {"text": {"field": "rest"}}}
      ]
    },
    {
      "width": 1115,
      "height": 845,
      "encoding": {
        "x": {"field": "T", "type": "quantitative", "title": "T/s",
          "scale": {"type": "log", "domain": [0.03, 7], "nice": false},
          "axis": {"values": [0.03,0.03778,0.04556,0.05333,0.06111,0.06889,0.07667,0.08444,0.09222,0.1,0.14444,0.18889,0.23333,0.27778,0.32222,0.36667,0.41111,0.45556,0.5,0.55556,0.61111,0.66667,0.72222,0.77778,0.83333,0.88889,0.94444,1,1.55556,2.11111,2.66667,3.22222,3.77778,4.33333,4.88889,5.44444,6],
            "labelExpr": "datum.value == 0.03 ? '0.03' : datum.value == 0.1 ? '0.1' : datum.value == 0.5 ? '0.5' : datum.value == 1 ? '1' : datum.value == 6 ? '6' : ''",
            "tickSize": {"condition": {"test": "datum.value == 0.1 || datum.value == 0.5 || datum.value == 1 || datum.value == 6", "value": -15}, "value": -7},
            "labelPadding": 22, "titleX": 574, "titleY": 92, "titleBaseline": "middle"}},
        "y": {"field": "PSA", "type": "quantitative", "title": "PSA/(cm·s⁻²)",
          "scale": {"type": "log", "domain": [0.0105, 302], "nice": false},
          "axis": {"values": [0.02,0.03,0.04,0.05,0.06,0.07,0.08,0.09,0.1,0.2,0.3,0.4,0.5,0.6,0.7,0.8,0.9,1,2,3,4,5,6,7,8,9,10,20,30,40,50,60,70,80,90,100,200,300],
            "labelExpr": "datum.value == 1000 ? '10³' : datum.value == 100 ? '10²' : datum.value == 10 ? '10¹' : datum.value == 1 ? '10⁰' : datum.value == 0.1 ? '10⁻¹' : ''",
            "tickSize": {"condition": {"test": "datum.value == 1000 || datum.value == 100 || datum.value == 10 || datum.value == 1 || datum.value == 0.1", "value": -16}, "value": -8},
            "labelPadding": 20, "labelOffset": 50, "titleX": -117, "titleBaseline": "middle"}}
      },
      "layer": [
        {"data": {"name": "curves"},
         "transform": [{"filter": "datum.panel == 'd'"}, {"fold": ["长轴", "短轴", "数据回归"], "as": ["type", "PSA"]}],
         "mark": {"type": "line", "color": "black", "strokeWidth": 2.8},
         "encoding": {
           "detail": {"field": "Ms", "type": "nominal"},
           "strokeDash": {"field": "type", "type": "nominal",
             "scale": {"domain": ["长轴", "短轴", "数据回归"], "range": [[1, 0], [36, 42], [8, 31, 2, 5]]},
             "legend": {"title": null, "orient": "none", "legendX": 83, "legendY": 544}}}},
        {"data": {"name": "notes"}, "transform": [{"filter": "datum.panel == 'd' && datum.kind == 'lab'"}],
         "mark": {"type": "text", "align": "left", "baseline": "middle", "fontSize": 54},
         "encoding": {"text": {"field": "rest"}}},
        {"data": {"name": "notes"}, "transform": [{"filter": "datum.panel == 'd' && datum.kind == 'M'"}],
         "mark": {"type": "text", "align": "left", "baseline": "alphabetic", "fontSize": 40, "fontStyle": "italic"},
         "encoding": {"text": {"field": "main"}}},
        {"data": {"name": "notes"}, "transform": [{"filter": "datum.panel == 'd' && datum.kind == 'M'"}],
         "mark": {"type": "text", "align": "left", "baseline": "alphabetic", "fontSize": 26, "dx": 33, "dy": 10},
         "encoding": {"text": {"field": "sub"}}},
        {"data": {"name": "notes"}, "transform": [{"filter": "datum.panel == 'd' && datum.kind == 'M'"}],
         "mark": {"type": "text", "align": "left", "baseline": "alphabetic", "fontSize": 38, "dx": 47},
         "encoding": {"text": {"field": "rest"}}},
        {"data": {"name": "notes"}, "transform": [{"filter": "datum.panel == 'd' && datum.kind == 'R'"}],
         "mark": {"type": "text", "align": "left", "baseline": "alphabetic", "fontSize": 46, "fontStyle": "italic"},
         "encoding": {"text": {"field": "main"}}},
        {"data": {"name": "notes"}, "transform": [{"filter": "datum.panel == 'd' && datum.kind == 'R'"}],
         "mark": {"type": "text", "align": "left", "baseline": "alphabetic", "fontSize": 30, "dx": 28, "dy": 11},
         "encoding": {"text": {"field": "sub"}}},
        {"data": {"name": "notes"}, "transform": [{"filter": "datum.panel == 'd' && datum.kind == 'R'"}],
         "mark": {"type": "text", "align": "left", "baseline": "alphabetic", "fontSize": 46, "dx": 66},
         "encoding": {"text": {"field": "rest"}}}
      ]
    }
  ],
  "resolve": {
    "scale": {"x": "independent", "y": "independent", "strokeDash": "independent"},
    "legend": {"strokeDash": "independent"}
  },
  "config": {
    "view": {"stroke": "black", "strokeWidth": 3},
    "font": "Liberation Serif",
    "axis": {"domain": false, "grid": false, "labelFont": "Liberation Serif", "labelFontSize": 46, "labelColor": "black",
      "titleFont": "Liberation Serif", "titleFontSize": 46, "titleFontWeight": "normal", "titleColor": "black",
      "tickColor": "black", "tickWidth": 2.5, "labelOverlap": false, "labelFlush": false, "labelBound": false},
    "legend": {"symbolType": "M-3,0H3", "symbolSize": 3211, "symbolStrokeWidth": 3, "symbolStrokeColor": "black",
      "labelFont": "Noto Sans CJK SC", "labelFontSize": 46, "labelColor": "black", "labelOffset": 85, "labelLimit": 0,
      "rowPadding": 47, "padding": 0},
    "text": {"color": "black", "font": "Liberation Serif"}
  }
}
